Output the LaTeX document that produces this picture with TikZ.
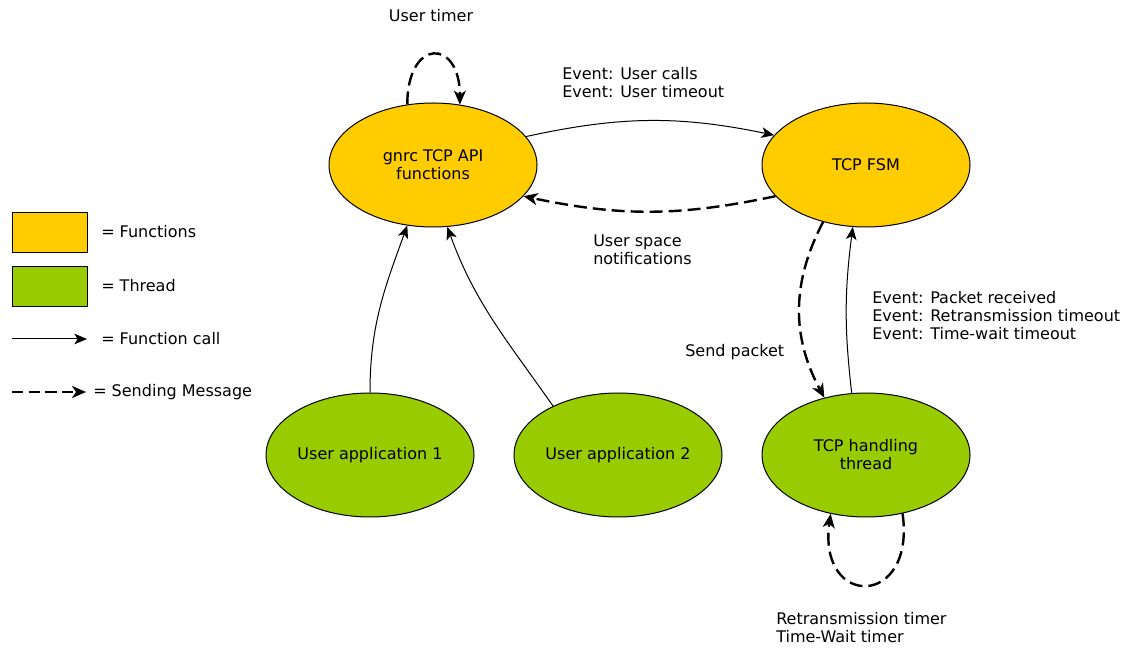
\documentclass[tikz,border=0pt]{standalone}
\usepackage{fontspec}
\setmainfont{DejaVu Sans}
\usetikzlibrary{arrows.meta,shapes.geometric}
\definecolor{fnyellow}{HTML}{FFCC00}
\definecolor{thgreen}{HTML}{99CC00}
\begin{document}
\begin{tikzpicture}[x=0.75pt,y=0.75pt,
  font=\fontsize{12}{13.5}\selectfont,
  state/.style={ellipse,draw,line width=0.75pt,minimum width=156pt,
    minimum height=93pt,inner sep=0pt,align=center},
  func/.style={state,fill=fnyellow},
  thread/.style={state,fill=thgreen},
  keybox/.style={draw,line width=0.75pt,minimum width=56.25pt,
    minimum height=30pt,inner sep=0pt,anchor=north west},
  call/.style={-{Stealth[length=9.5pt,width=8pt,inset=2.5pt]},line width=0.75pt},
  msg/.style={-{Stealth[length=10.5pt,width=9pt,inset=3pt]},line width=1.8pt,
    dash pattern=on 9.75pt off 4.5pt},
  lbl/.style={anchor=west,align=left,inner sep=0pt}]
\useasboundingbox (0,0) rectangle (1132,-648);

% legend
\node[keybox,fill=fnyellow] (keyfn) at (12,-212) {};
\node[lbl] (keyfntxt) at (101,-232) {= Functions};
\node[keybox,fill=thgreen] (keyth) at (12,-266) {};
\node[lbl] (keythtxt) at (101,-286) {= Thread};
\coordinate (kc1) at (12,-339);
\coordinate (kc2) at (87,-339);
\draw[call] (kc1) -- (kc2);
\node[lbl] (keycalltxt) at (101,-339) {= Function call};
\coordinate (km1) at (12,-392);
\coordinate (km2) at (86,-392);
\draw[msg,dash pattern=on 8.5pt off 4pt] (km1) -- (km2);
\node[lbl] (keymsgtxt) at (93,-392) {= Sending Message};

% states
\node[func] (api) at (433,-165) {gnrc TCP API\\functions};
\node[func] (fsm) at (866,-165) {TCP FSM};
\node[thread] (app1) at (370,-455) {User application 1};
\node[thread] (app2) at (618,-455) {User application 2};
\node[thread] (tcpth) at (866,-455) {TCP handling\\thread};

% connectors
\draw[msg] (api.113) to[out=90,in=90,distance=50pt] (api.66);
\draw[call] (api.17) to[bend left=12] (fsm.162);
\draw[msg] (fsm.199) to[bend left=12] (api.341);
\draw[msg] (fsm.233) to[bend right=28] (tcpth.126);
\draw[call] (tcpth.103) to[bend left=7] (fsm.258);
\draw[call] (app1.north) to[out=90,in=250] (api.247);
\draw[call] (app2.143) to[out=125,in=290] (api.283);
\draw[msg] (tcpth.302) to[out=-82,in=-98,distance=72pt] (tcpth.239);

% labels
\node (ltimer) at (431,-16) {User timer};
\node[lbl] (lcalls) at (562,-83) {Event: User calls\\Event: User timeout};
\node[lbl] (lnotif) at (593,-250) {User space\\notifications};
\node[lbl] (lsend) at (685,-352) {Send packet};
\node[lbl] (lrecv) at (872,-316) {Event: Packet received\\Event: Retransmission timeout\\Event: Time-wait timeout};
\node[lbl] (ltimers) at (776,-628) {Retransmission timer\\Time-Wait timer};
\end{tikzpicture}
\end{document}
